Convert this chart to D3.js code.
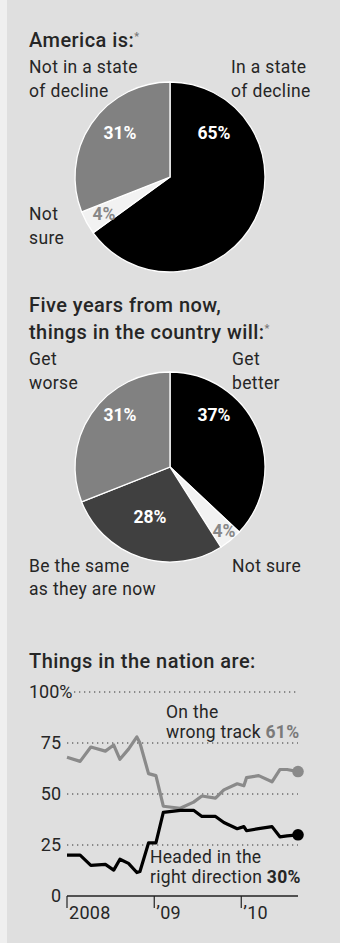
<!DOCTYPE html>
<html>
<head>
<meta charset="utf-8">
<script src="https://cdn.jsdelivr.net/npm/d3@7"></script>
<style>
  html, body { margin: 0; padding: 0; background: #efefef; }
  svg { display: block; }
  text { font-family: Roboto, "Noto Sans", sans-serif; fill: #262626; }
</style>
</head>
<body>
<div id="chart"></div>
<script>
// pie 1 - America is:
const declineLabels = ['In a state of decline', 'Not sure', 'Not in a state of decline']
const declineValues = [65, 4, 31]

// pie 2 - five years from now
const futureLabels = ['Get better', 'Not sure', 'Be the same as they are now', 'Get worse']
const futureValues = [37, 4, 28, 31]

// line chart - right direction / wrong track
const pollDates = [
  '2008-01-01', '2008-02-25', '2008-04-10', '2008-06-10', '2008-07-15', '2008-08-10',
  '2008-09-15', '2008-10-20', '2008-11-02', '2008-12-08', '2009-01-08', '2009-02-08',
  '2009-04-20', '2009-06-15', '2009-07-20', '2009-09-15', '2009-10-20', '2009-12-15',
  '2010-01-12', '2010-01-23', '2010-03-15', '2010-05-10', '2010-06-12', '2010-07-12',
  '2010-08-27',
]
const wrongTrack = [68, 66, 73, 71, 74, 67, 72, 78, 75, 60, 59, 44, 43, 46, 49, 48, 52, 55, 54, 58, 59, 56, 62, 62, 61]
const rightDirection = [20, 20, 15, 15.5, 12.7, 18, 16, 11.5, 12, 26, 26, 41, 42, 42, 39, 39, 36, 33, 34, 32, 33, 34, 29, 29.5, 30]
const yTicks = [0, 25, 50, 75, 100]
const xTicks = [
  { date: '2008-01-01', label: '2008' },
  { date: '2009-01-01', label: '\u201909' },
  { date: '2010-01-01', label: '\u201910' },
]

const width = 340
const height = 943
const left = 29

const svg = d3.select('#chart').append('svg').attr('width', width).attr('height', height)

svg.append('rect').attr('x', 7).attr('y', 0).attr('width', width - 7).attr('height', height).attr('fill', '#dfdfdf')

const title = (y, lines, star) => {
  lines.forEach((line, i) => {
    const t = svg.append('text')
      .attr('x', left).attr('y', y + i * 27.5)
      .attr('font-size', 20).attr('font-weight', 500)
      .attr('letter-spacing', 0.45)
      .text(line)
    if (star && i === lines.length - 1) {
      t.append('tspan').attr('font-size', 11).attr('dy', -7).attr('fill', '#777').text('*')
    }
  })
}

const label = (x, y, lines, anchor) => {
  const t = svg.append('text').attr('x', x).attr('y', y).attr('font-size', 17.5)
    .attr('letter-spacing', 0.35).attr('text-anchor', anchor || 'start')
  lines.forEach((line, i) => {
    t.append('tspan').attr('x', x).attr('dy', i ? 23.5 : 0).text(line)
  })
}

const pieLayout = d3.pie().sort(null).value((d) => d)
const arc = d3.arc().innerRadius(0).outerRadius(95)

function drawPie(cx, cy, values, colors, pctSpots, pctColors) {
  const g = svg.append('g').attr('transform', `translate(${cx},${cy})`)
  const arcs = pieLayout(values)
  g.selectAll('path')
    .data(arcs)
    .enter()
    .append('path')
    .attr('d', arc)
    .attr('fill', (d, i) => colors[i])
    .attr('stroke', '#fff')
    .attr('stroke-width', 1.3)
  g.selectAll('text.pct')
    .data(arcs)
    .enter()
    .append('text')
    .attr('class', 'pct')
    .attr('x', (d, i) => pctSpots[i][0])
    .attr('y', (d, i) => pctSpots[i][1])
    .attr('text-anchor', 'middle')
    .attr('font-size', 17.5)
    .attr('font-weight', 700)
    .style('fill', (d, i) => pctColors[i])
    .text((d) => d.data + '%')
}

// ---- pie 1
title(46.5, ['America is:'], true)
label(left, 73, ['Not in a state', 'of decline'])
label(231, 73, ['In a state', 'of decline'])
label(left, 220, ['Not', 'sure'])
drawPie(170, 177, declineValues, ['#000', '#f2f2f2', '#818181'],
  [[44, -38], [-66, 43], [-50, -38]], ['#fff', '#888', '#fff'])

// ---- pie 2
title(311.5, ['Five years from now,', 'things in the country will:'], true)
label(left, 365, ['Get', 'worse'])
label(232, 365, ['Get', 'better'])
label(left, 571.5, ['Be the same', 'as they are now'])
label(232, 571.5, ['Not sure'])
drawPie(170, 467, futureValues, ['#000', '#f2f2f2', '#404040', '#818181'],
  [[44, -46], [54, 70], [-20, 56], [-50, -46]], ['#fff', '#888', '#fff', '#fff'])

// ---- line chart
title(667.5, ['Things in the nation are:'], false)

const parse = d3.timeParse('%Y-%m-%d')
const dates = pollDates.map(parse)
const x = d3.scaleTime().domain([parse('2008-01-01'), dates[dates.length - 1]]).range([67, 298])
const y = d3.scaleLinear().domain([0, 100]).range([896, 692])

const grid = svg.append('g')
grid.selectAll('line')
  .data(yTicks.filter((d) => d > 0))
  .enter()
  .append('line')
  .attr('x1', (d) => (d === 100 ? 74 : 67))
  .attr('x2', 298)
  .attr('y1', (d) => y(d))
  .attr('y2', (d) => y(d))
  .attr('stroke', '#333')
  .attr('stroke-width', 1)
  .attr('stroke-dasharray', '1.3,3.7')

svg.append('g')
  .selectAll('text')
  .data(yTicks)
  .enter()
  .append('text')
  .attr('x', (d) => (d === 100 ? left : 61))
  .attr('y', (d) => y(d) + 6)
  .attr('text-anchor', (d) => (d === 100 ? 'start' : 'end'))
  .attr('font-size', 18)
  .text((d) => (d === 100 ? d + '%' : d))

const xAxis = svg.append('g').attr('transform', `translate(0,${y(0)})`)
xAxis.append('line').attr('x1', 67).attr('x2', 298).attr('stroke', '#222').attr('stroke-width', 1.5)
const xt = xAxis.selectAll('g.tick')
  .data(xTicks)
  .enter()
  .append('g')
  .attr('class', 'tick')
  .attr('transform', (d) => `translate(${x(parse(d.date))},0)`)
xt.append('line').attr('y1', 0).attr('y2', 12).attr('stroke', '#222').attr('stroke-width', 1.2)
xt.append('text').attr('x', 2).attr('y', 23).attr('font-size', 18).attr('letter-spacing', 0.3).text((d) => d.label)

const line = d3.line().x((d, i) => x(dates[i])).y((d) => y(d))

const series = [
  { values: wrongTrack, color: '#8a8a8a' },
  { values: rightDirection, color: '#000' },
]
series.forEach((s) => {
  svg.append('path')
    .attr('d', line(s.values))
    .attr('fill', 'none')
    .attr('stroke', s.color)
    .attr('stroke-width', 3.2)
    .attr('stroke-linejoin', 'round')
  const n = s.values.length - 1
  svg.append('circle').attr('cx', x(dates[n])).attr('cy', y(s.values[n])).attr('r', 5.8).attr('fill', s.color)
})

const wrongLbl = svg.append('text').attr('x', 166).attr('y', 718).attr('font-size', 17.5).attr('letter-spacing', 0.3)
wrongLbl.append('tspan').text('On the')
wrongLbl.append('tspan').attr('x', 166).attr('dy', 19.5).text('wrong track  ')
wrongLbl.append('tspan').attr('font-weight', 700).style('fill', '#7a7a7a').text(wrongTrack[wrongTrack.length - 1] + '%')

const rightLbl = svg.append('text').attr('x', 150).attr('y', 863).attr('font-size', 17.5).attr('letter-spacing', 0.3)
rightLbl.append('tspan').text('Headed in the')
rightLbl.append('tspan').attr('x', 150).attr('dy', 20).text('right direction ')
rightLbl.append('tspan').attr('font-weight', 700).text(rightDirection[rightDirection.length - 1] + '%')
</script>
</body>
</html>
